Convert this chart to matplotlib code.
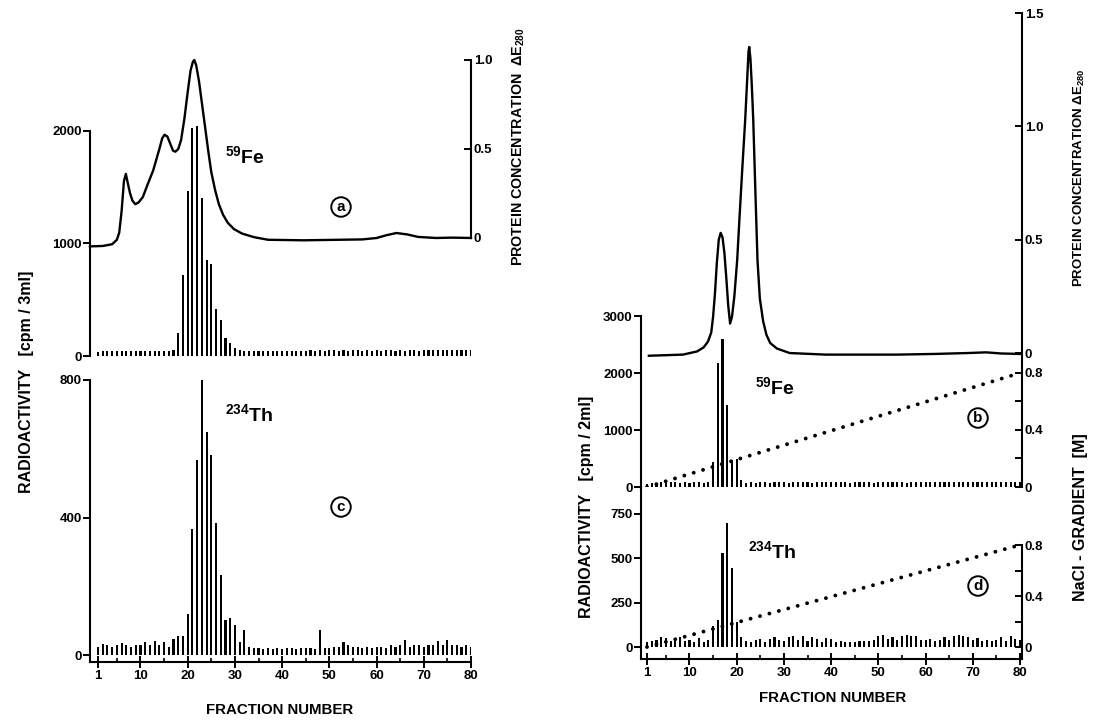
import numpy as np
import matplotlib.pyplot as plt
from matplotlib import font_manager

W, H = 1101, 726

# narrow lettering, as in the scanned original
installed = {f.name for f in font_manager.fontManager.ttflist}
base_font = 'Liberation Sans'
for cand in ['DejaVu Sans Condensed', 'Liberation Sans Narrow', 'Liberation Sans']:
    if cand in installed:
        base_font = cand
        break
plt.rcParams['font.family'] = [base_font, 'DejaVu Sans']
plt.rcParams['font.weight'] = 'bold'
plt.rcParams['mathtext.default'] = 'regular'

fractions = np.arange(1, 81)

# left column: Fe-59 and Th-234, cpm / 3ml
fe_3ml = [35, 40, 45, 45, 40, 45, 40, 45, 40, 45,
          45, 40, 45, 40, 45, 45, 55, 200, 720, 1470,
          2030, 2040, 1400, 850, 820, 420, 320, 160, 115, 70,
          55, 45, 40, 40, 45, 40, 40, 45, 40, 45,
          40, 45, 45, 40, 45, 50, 45, 50, 45, 50,
          50, 45, 50, 45, 50, 50, 45, 50, 45, 50,
          45, 50, 50, 45, 50, 45, 50, 50, 45, 55,
          50, 55, 50, 50, 55, 50, 55, 55, 50, 50]
th_3ml = [25, 32, 28, 25, 30, 35, 28, 25, 30, 30,
          38, 28, 40, 30, 38, 25, 48, 55, 55, 121,
          368, 567, 812, 650, 582, 383, 233, 102, 107, 87,
          39, 73, 25, 22, 20, 18, 20, 18, 20, 18,
          20, 22, 18, 20, 22, 20, 18, 73, 20, 22,
          25, 25, 38, 28, 25, 25, 22, 25, 22, 25,
          25, 22, 28, 25, 28, 45, 25, 28, 28, 25,
          28, 30, 40, 30, 45, 28, 30, 25, 28, 25]

# right column: Fe-59 and Th-234, cpm / 2ml
fe_2ml = [60, 70, 75, 80, 75, 80, 80, 75, 80, 75,
          80, 80, 75, 90, 440, 2175, 2600, 1440, 470, 490,
          120, 75, 80, 75, 80, 80, 75, 80, 85, 80,
          75, 80, 80, 85, 80, 75, 80, 80, 85, 80,
          80, 85, 80, 75, 80, 80, 85, 80, 75, 85,
          80, 80, 85, 80, 80, 75, 85, 80, 80, 85,
          80, 80, 85, 80, 80, 85, 80, 85, 80, 80,
          85, 80, 80, 85, 80, 85, 80, 80, 85, 80]
th_2ml = [30, 35, 40, 55, 50, 35, 40, 55, 35, 40,
          30, 50, 30, 40, 120, 150, 528, 697, 444, 140,
          55, 35, 30, 40, 45, 30, 45, 55, 40, 35,
          55, 60, 40, 60, 35, 55, 45, 30, 50, 45,
          30, 35, 30, 30, 30, 35, 35, 35, 40, 60,
          65, 45, 55, 40, 60, 65, 60, 60, 40, 40,
          45, 35, 40, 55, 40, 60, 65, 60, 55, 40,
          50, 35, 40, 35, 40, 55, 35, 60, 45, 40]

# protein elution profiles (A280)
prot_left_frac = [-0.7, 2.0, 4.0, 5.0, 5.5, 6.0, 6.5, 6.9, 7.3, 7.8, 8.3, 8.9, 9.6,
                  10.5, 11.5, 12.7, 14.0, 14.6, 15.1, 15.7, 16.3, 16.9, 17.4, 18.0,
                  18.6, 19.3, 20.0, 20.6, 21.1, 21.4, 21.8, 22.4, 23.0, 23.7, 24.4,
                  25.0, 25.8, 26.6, 27.5, 28.5, 29.8, 31.5, 34.0, 37.0, 44.5, 52.0,
                  57.0, 60.0, 62.0, 64.2, 66.5, 68.8, 72.6, 76.0, 80.0]
prot_left_A = [-0.047, -0.045, -0.035, -0.01, 0.03, 0.15, 0.32, 0.36, 0.31, 0.25, 0.21,
               0.19, 0.20, 0.23, 0.30, 0.38, 0.50, 0.56, 0.58, 0.57, 0.53, 0.49, 0.485,
               0.50, 0.55, 0.67, 0.82, 0.94, 0.99, 1.0, 0.97, 0.88, 0.76, 0.62, 0.48,
               0.37, 0.27, 0.19, 0.13, 0.085, 0.05, 0.025, 0.005, -0.01, -0.013, -0.01,
               -0.008, 0.0, 0.015, 0.028, 0.02, 0.006, 0.0, 0.002, 0.0]
prot_right_frac = [1.4, 8.6, 11.6, 13.0, 13.9, 14.6, 15.0, 15.4, 15.8, 16.2, 16.6, 17.0,
                   17.4, 17.8, 18.2, 18.6, 19.0, 19.5, 20.1, 20.6, 21.2, 21.8, 22.2,
                   22.5, 22.65, 22.9, 23.2, 23.5, 23.9, 24.4, 24.9, 25.6, 26.3, 27.1,
                   28.5, 31.2, 38.8, 53.9, 62.0, 69.0, 72.8, 76.0, 80.0]
prot_right_A = [-0.012, -0.007, 0.007, 0.025, 0.05, 0.09, 0.16, 0.265, 0.40, 0.50, 0.53,
                0.51, 0.44, 0.33, 0.21, 0.13, 0.16, 0.25, 0.41, 0.60, 0.82, 1.03, 1.20,
                1.33, 1.35, 1.30, 1.18, 1.03, 0.75, 0.41, 0.24, 0.14, 0.08, 0.044, 0.02,
                0.0, -0.007, -0.007, -0.004, 0.0, 0.003, -0.002, -0.004]

# NaCl gradient end points
nacl_frac = [1, 80]
nacl_M = [0.0, 0.8]

x_ticks = [1, 10, 20, 30, 40, 50, 60, 70, 80]
minor_ticks = [5, 15, 25, 35, 45, 55, 65, 75]

fig = plt.figure(figsize=(W / 100, H / 100), dpi=100)


def box(x0, y0, x1, y1):
    return [x0 / W, 1 - y1 / H, (x1 - x0) / W, (y1 - y0) / H]


def ftext(x, y, s, **kw):
    fig.text(x / W, 1 - y / H, s, ha='center', va='center', **kw)


def strip(ax):
    for s in ax.spines.values():
        s.set_visible(False)
    ax.patch.set_visible(False)
    ax.tick_params(axis='x', which='both', bottom=False, labelbottom=False)


def left_axis(ax, ticks, labels, bounds):
    ax.spines['left'].set_visible(True)
    ax.spines['left'].set_bounds(*bounds)
    ax.spines['left'].set_linewidth(1.5)
    ax.set_yticks(ticks, labels)
    ax.tick_params(axis='y', direction='out', length=5, width=1.4, pad=1, labelsize=9.5)


def right_axis(ax, ticks, labels, bounds):
    ax.spines['right'].set_visible(True)
    ax.spines['right'].set_bounds(*bounds)
    ax.spines['right'].set_linewidth(1.5)
    ax.yaxis.tick_right()
    ax.set_yticks(ticks, labels)
    ax.tick_params(axis='y', direction='in', length=5, width=1.4, pad=2, labelsize=9.5)


def bottom_axis(ax):
    ax.spines['bottom'].set_visible(True)
    ax.spines['bottom'].set_linewidth(1.5)
    ax.set_xticks(x_ticks, [str(t) for t in x_ticks])
    ax.set_xticks(minor_ticks, minor=True)
    ax.tick_params(axis='x', which='major', bottom=True, labelbottom=True,
                   direction='inout', length=8, width=1.4, pad=2, labelsize=9.5)
    ax.tick_params(axis='x', which='minor', bottom=True, direction='in',
                   length=3, width=1.2)


# ---------------- left column ----------------
lx0, lx1 = 90, 471
lxlim = (-0.69, 80.0)

# panel a: bars + protein
ax_a = fig.add_axes(box(lx0, 60, lx1, 356))
strip(ax_a)
ax_a.bar(fractions, fe_3ml, width=0.45, color='black')
ax_a.set_xlim(*lxlim)
ax_a.set_ylim(0, 2630)
left_axis(ax_a, [0, 1000, 2000], ['0', '1000', '2000'], (0, 2000))

ax_ap = ax_a.twinx()
strip(ax_ap)
ax_ap.plot(prot_left_frac, prot_left_A, color='black', lw=1.7, clip_on=False)
ax_ap.set_xlim(*lxlim)
ax_ap.set_ylim(-0.663, 1.0)
right_axis(ax_ap, [0, 0.5, 1.0], ['0', '0.5', '1.0'], (0, 1.0))

# panel c
ax_c = fig.add_axes(box(lx0, 380, lx1, 662))
strip(ax_c)
ax_c.bar(fractions, th_3ml, width=0.45, color='black')
ax_c.set_xlim(*lxlim)
ax_c.set_ylim(-20, 800)
left_axis(ax_c, [0, 400, 800], ['0', '400', '800'], (-20, 800))
bottom_axis(ax_c)

ftext(27, 382, 'RADIOACTIVITY   [cpm / 3ml]', rotation=90, fontsize=11.5)
ftext(519, 147, r'PROTEIN CONCENTRATION  $\Delta$E$_{280}$', rotation=90, fontsize=10.3)
ftext(280, 710, 'FRACTION NUMBER', fontsize=10.8)
ftext(245, 156, r'$^{59}$Fe', fontsize=14)
ftext(249, 414, r'$^{234}$Th', fontsize=14)

# ---------------- right column ----------------
rx0, rx1 = 641, 1022
rxlim = (-0.27, 80.42)

# panel b: bars + protein + gradient
ax_b = fig.add_axes(box(rx0, 13, rx1, 487))
strip(ax_b)
ax_b.bar(fractions, fe_2ml, width=0.45, color='black')
ax_b.set_xlim(*rxlim)
ax_b.set_ylim(0, 8316)
left_axis(ax_b, [0, 1000, 2000, 3000], ['0', '1000', '2000', '3000'], (0, 3000))

ax_bp = ax_b.twinx()
strip(ax_bp)
ax_bp.plot(prot_right_frac, prot_right_A, color='black', lw=1.7, clip_on=False)
ax_bp.set_xlim(*rxlim)
ax_bp.set_ylim(-0.591, 1.5)
right_axis(ax_bp, [0, 0.5, 1.0, 1.5], ['0', '0.5', '1.0', '1.5'], (-0.09, 1.5))

ax_bn = ax_b.twinx()
strip(ax_bn)
ax_bn.plot(nacl_frac, nacl_M, color='black', lw=2.8, linestyle=(0, (0.01, 2.5)),
           dash_capstyle='round')
ax_bn.set_xlim(*rxlim)
ax_bn.set_ylim(0, 3.326)
right_axis(ax_bn, [0, 0.2, 0.4, 0.6, 0.8], ['0', '', '0.4', '', '0.8'], (0, 0.8))

# panel d
ax_d = fig.add_axes(box(rx0, 487, rx1, 659))
strip(ax_d)
ax_d.bar(fractions, th_2ml, width=0.45, color='black')
ax_d.set_xlim(*rxlim)
ax_d.set_ylim(-67, 899)
left_axis(ax_d, [0, 250, 500, 750], ['0', '250', '500', '750'], (-67, 899))

ax_dn = ax_d.twinx()
strip(ax_dn)
ax_dn.plot(nacl_frac, nacl_M, color='black', lw=2.8, linestyle=(0, (0.01, 2.5)),
           dash_capstyle='round')
ax_dn.set_xlim(*rxlim)
ax_dn.set_ylim(-0.094, 1.255)
right_axis(ax_dn, [0, 0.2, 0.4, 0.6, 0.8], ['0', '', '0.4', '', '0.8'], (-0.094, 0.8))
bottom_axis(ax_d)

ftext(586, 507, 'RADIOACTIVITY   [cpm / 2ml]', rotation=90, fontsize=11.5)
ftext(1080, 517, 'NaCl - GRADIENT  [M]', rotation=90, fontsize=11.5)
ftext(1079, 178, r'PROTEIN CONCENTRATION $\Delta$E$_{280}$', rotation=90, fontsize=9.5)
ftext(833, 698, 'FRACTION NUMBER', fontsize=10.8)
ftext(775, 387, r'$^{59}$Fe', fontsize=14)
ftext(772, 551, r'$^{234}$Th', fontsize=14)

# circled panel letters
circ = dict(boxstyle='circle,pad=0.18', fc='none', ec='black', lw=1.4)
for x, y, s in [(341, 207, 'a'), (341, 507, 'c'), (978, 418, 'b'), (978, 586, 'd')]:
    ftext(x, y, s, fontsize=11, bbox=circ)

fig.savefig('out.png', dpi=100)
